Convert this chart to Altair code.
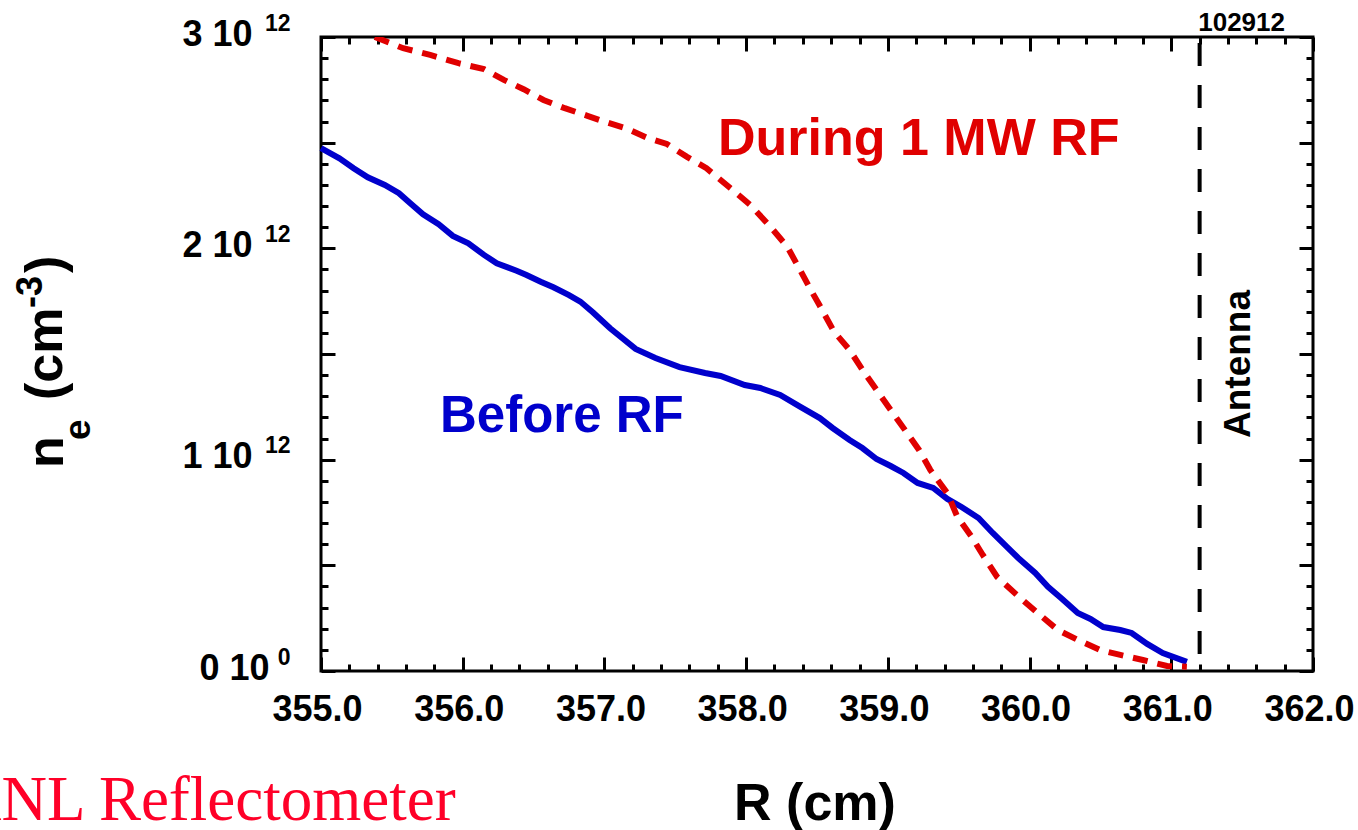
import altair as alt
import pandas as pd

# ---------------- data ----------------
# "Before RF" profile: R (cm) and n_e (units of 1e12 cm^-3)
R_before = [355.00, 355.13, 355.23, 355.33, 355.45, 355.55, 355.63, 355.72, 355.83, 355.93,
            356.04, 356.15, 356.24, 356.38, 356.45, 356.55, 356.64, 356.75, 356.83, 356.92,
            357.04, 357.22, 357.36, 357.53, 357.71, 357.82, 357.99, 358.10, 358.24, 358.38,
            358.52, 358.61, 358.73, 358.82, 358.92, 359.02, 359.11, 359.21, 359.32, 359.42,
            359.52, 359.64, 359.74, 359.84, 359.92, 360.04, 360.13, 360.23, 360.34, 360.43,
            360.52, 360.64, 360.72, 360.83, 360.94, 361.11]
n_before = [2.474, 2.426, 2.379, 2.336, 2.300, 2.261, 2.213, 2.161, 2.114, 2.059,
            2.024, 1.969, 1.929, 1.894, 1.874, 1.842, 1.816, 1.779, 1.748, 1.696,
            1.622, 1.524, 1.481, 1.438, 1.410, 1.396, 1.353, 1.339, 1.306, 1.251,
            1.197, 1.150, 1.093, 1.055, 1.003, 0.970, 0.937, 0.890, 0.866, 0.814,
            0.776, 0.724, 0.653, 0.587, 0.535, 0.464, 0.398, 0.341, 0.274, 0.246,
            0.208, 0.194, 0.180, 0.128, 0.085, 0.043]

# "During 1 MW RF" profile
R_during = [355.38, 355.58, 355.77, 355.97, 356.15, 356.29, 356.43, 356.57, 356.72, 356.88,
            357.02, 357.15, 357.31, 357.44, 357.58, 357.72, 357.89, 358.03, 358.17, 358.29,
            358.38, 358.47, 358.52, 358.62, 358.73, 358.83, 358.92, 359.02, 359.12, 359.22,
            359.30, 359.42, 359.49, 359.59, 359.67, 359.77, 359.91, 360.06, 360.20, 360.34,
            360.50, 360.64, 360.80, 360.97, 361.11]
n_during = [3.000, 2.947, 2.915, 2.876, 2.848, 2.797, 2.753, 2.702, 2.663, 2.627,
            2.595, 2.568, 2.521, 2.494, 2.434, 2.379, 2.284, 2.205, 2.103, 2.008,
            1.898, 1.787, 1.728, 1.606, 1.519, 1.416, 1.330, 1.235, 1.141, 1.046,
            0.951, 0.841, 0.730, 0.636, 0.549, 0.446, 0.360, 0.273, 0.194, 0.147,
            0.099, 0.076, 0.052, 0.024, 0.020]

antenna_R = [361.2]

# axis ticks / labels
x_label_values = [355, 356, 357, 358, 359, 360, 361, 362]
y_label_values = [0, 1, 2, 3]
x_tick_values = [round(355 + 0.2 * i, 1) for i in range(36)]
y_tick_values = [round(0.1 * i, 1) for i in range(31)]

# texts
txt_during = "During 1 MW RF"
txt_before = "Before RF"
txt_antenna = "Antenna"
txt_shot = "102912"
txt_xtitle = "R (cm)"
txt_source = "ANL Reflectometer"
ytitle_n = "n"
ytitle_sub = "e"
ytitle_open = "(cm"
ytitle_sup = "-3"
ytitle_close = ")"

# ---------------- chart ----------------
W, H = 992, 634
PAD_L, PAD_T = 321, 37
FONT = "Liberation Sans"
BLUE = "#0000cc"
RED = "#e00000"

xs = alt.Scale(domain=[355, 362], nice=False, zero=False)
ys = alt.Scale(domain=[0, 3], nice=False, zero=False)

before = pd.DataFrame({"R": R_before, "n": n_before})
during = pd.DataFrame({"R": R_during, "n": n_during})

x_major = "abs(datum.value - round(datum.value)) < 0.01"
y_major = "abs(datum.value * 2 - round(datum.value * 2)) < 0.01"
tick_x = {"condition": {"test": x_major, "value": 14}, "value": 7}
tick_y = {"condition": {"test": y_major, "value": 14}, "value": 7}


def tick_axis(orient, offset, values, size):
    return alt.Axis(orient=orient, offset=offset, values=values, labels=False,
                    domain=False, grid=False, ticks=True, tickSize=size,
                    tickWidth=3, tickColor="black", title=None)


label_x_axis = alt.Axis(orient="bottom", values=x_label_values, format=".1f",
                        labelFont=FONT, labelFontSize=36, labelFontWeight="bold",
                        labelColor="black", labelPadding=21, labelOffset=-4,
                        labelFlush=False, labelOverlap=False, ticks=False,
                        tickSize=0, domain=False, grid=False, title=None)
# mantissa part "N 10"
label_y_axis = alt.Axis(orient="left", values=y_label_values,
                        labelExpr="datum.label + ' 10'",
                        labelFont=FONT, labelFontSize=36, labelFontWeight="bold",
                        labelColor="black",
                        labelPadding={"condition": {"test": "datum.value == 0", "value": 52}, "value": 69},
                        labelOffset=-3, labelAlign="right", labelBaseline="middle",
                        labelOverlap=False, ticks=False, tickSize=0,
                        domain=False, grid=False, title=None)
# exponent part (superscript)
exp_y_axis = alt.Axis(orient="left", values=y_label_values,
                      labelExpr="datum.value == 0 ? '0' : '12'",
                      labelFont=FONT, labelFontSize=23, labelFontWeight="bold",
                      labelColor="black", labelPadding=31, labelOffset=-14,
                      labelAlign="right", labelBaseline="middle",
                      labelOverlap=False, ticks=False, tickSize=0,
                      domain=False, grid=False, title=None)

blue = alt.Chart(before).mark_line(color=BLUE, strokeWidth=6).encode(
    x=alt.X("R:Q", scale=xs, axis=label_x_axis),
    y=alt.Y("n:Q", scale=ys, axis=label_y_axis),
)
red = alt.Chart(during).mark_line(color=RED, strokeWidth=6, strokeDash=[15, 10], clip=True).encode(
    x=alt.X("R:Q", scale=xs, axis=tick_axis("top", -H, x_tick_values, tick_x)),
    y=alt.Y("n:Q", scale=ys, axis=tick_axis("right", -W, y_tick_values, tick_y)),
)
ghost = alt.Chart(before).mark_point(opacity=0).encode(
    x=alt.X("R:Q", scale=xs, axis=tick_axis("bottom", -H, x_tick_values, tick_x)),
    y=alt.Y("n:Q", scale=ys, axis=tick_axis("left", -W, y_tick_values, tick_y)),
)
ghost2 = alt.Chart(before).mark_point(opacity=0).encode(
    x=alt.X("R:Q", scale=xs, axis=None),
    y=alt.Y("n:Q", scale=ys, axis=exp_y_axis),
)
antenna = alt.Chart(pd.DataFrame({"R": antenna_R})).mark_rule(
    color="black", strokeWidth=4, strokeDash=[23, 19], strokeDashOffset=36
).encode(x=alt.X("R:Q", scale=xs, axis=None))


def txt(text, x, y, size, color="black", angle=0, align="left", font=FONT, weight="bold"):
    return alt.Chart(pd.DataFrame({"t": [text]})).mark_text(
        font=font, fontSize=size, fontWeight=weight, color=color, angle=angle,
        align=align, baseline="alphabetic"
    ).encode(x=alt.value(x - PAD_L), y=alt.value(y - PAD_T), text="t:N")


texts = [
    txt(txt_during, 718, 155, 52, RED),
    txt(txt_before, 440, 432, 51, BLUE),
    txt(txt_antenna, 1250, 438, 37, angle=270),
    txt(txt_shot, 1285, 31, 26, align="right"),
    txt(txt_xtitle, 815, 820, 52, align="center"),
    txt(txt_source, -44, 820, 63, "#ff0028", font="Liberation Serif", weight="normal"),
    txt(ytitle_n, 63, 468, 52, angle=270),
    txt(ytitle_sub, 90, 440, 37, angle=270),
    txt(ytitle_open, 62, 400, 52, angle=270),
    txt(ytitle_sup, 42, 308, 36, angle=270),
    txt(ytitle_close, 62, 273, 52, angle=270),
]

chart = alt.layer(blue, red, ghost, ghost2, antenna, *texts).resolve_axis(
    x="independent", y="independent"
).properties(
    width=W, height=H,
    autosize=alt.AutoSizeParams(type="none"),
    padding={"left": PAD_L, "top": PAD_T, "right": 1358 - PAD_L - W, "bottom": 830 - PAD_T - H},
    background="white",
).configure_view(stroke="black", strokeWidth=3)

chart.save("out.html", embed_options={"renderer": "svg", "actions": False})
